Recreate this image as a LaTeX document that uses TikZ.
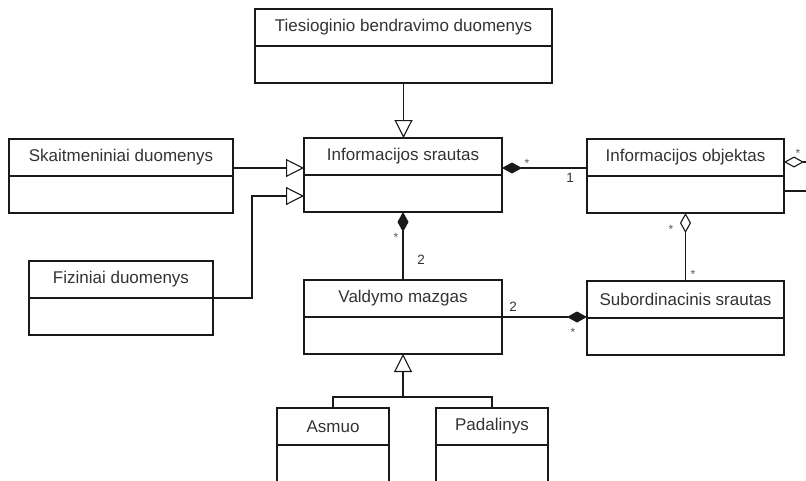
\documentclass[tikz,border=0pt]{standalone}
\usepackage{fontspec}
\setmainfont{Liberation Sans}
\usetikzlibrary{arrows.meta,calc}

\tikzset{
  cls/.style={draw=black!90, line width=1.1pt, fill=white, minimum width=#1,
    minimum height=74, inner sep=0pt, outer sep=0pt, anchor=north west},
  lbl/.style={font=\fontsize{17}{20}\selectfont, text=black!80, inner sep=0pt},
  mult/.style={font=\fontsize{13.5}{16}\selectfont, text=black!80, inner sep=0pt},
  star/.style={font=\fontsize{12}{14}\selectfont, text=black!65, inner sep=0pt},
  conn/.style={draw=black!90, line width=1.1pt},
  gen/.style={conn, -{Triangle[open, length=18pt, width=18pt, fill=white]}},
  comp/.style={conn, {Diamond[length=20pt, width=11pt]}-},
  agg/.style={conn, {Diamond[open, length=20pt, width=11pt, fill=white]}-},
}

% class box: name, left x, top y, width, title
\newcommand\umlclass[5]{%
  \node[cls=#4] (#1) at (#2,#3) {};
  \draw[conn] (#1.west) -- (#1.east);
  \node[lbl] (#1-title) at ([yshift=-18.5pt]#1.north) {#5};
}

\begin{document}
\begin{tikzpicture}[x=1pt, y=-1pt]
  \useasboundingbox (0,0) rectangle (806,480);
  \fill[white] (0,0) rectangle (806,480);
  \clip (0,0) rectangle (806,480);

  % classes
  \umlclass{tb}{255}{9}{297}{Tiesioginio bendravimo duomenys}
  \umlclass{sr}{304}{138}{198}{Informacijos srautas}
  \umlclass{sk}{9}{139}{224}{Skaitmeniniai duomenys}
  \umlclass{ob}{587}{139}{197}{Informacijos objektas}
  \umlclass{fz}{29}{261}{184}{Fiziniai duomenys}
  \umlclass{vm}{304}{280}{198}{Valdymo mazgas}
  \umlclass{sb}{587}{281}{197}{Subordinacinis srautas}
  \umlclass{as}{277}{408}{112}{Asmuo}
  \umlclass{pd}{436}{408}{112}{Padalinys}

  % generalisations
  \draw[gen] (tb.south) -- (tb.south |- sr.north);
  \draw[gen] ([yshift=8pt]sk.east) -- ([yshift=8pt]sk.east -| sr.west);
  \draw[gen] (fz.east) -- ++(39,0) |- ([yshift=-21pt]sr.west);
  \coordinate (join) at (403,397);
  \draw[conn] (as.north) |- (join) -| (pd.north);
  \draw[gen] (join) -- (vm.south);

  % compositions
  \draw[comp] ([yshift=7pt]sr.east) -- ([yshift=7pt]sr.east -| ob.west);
  \node[star] (m1) at (527,163) {*};
  \node[mult] (m2) at (570,178) {1};

  \draw[comp] (sr.south) -- (vm.north);
  \node[star] (m3) at (396,237) {*};
  \node[mult] (m4) at (421,260) {2};

  \draw[comp] (sb.west |- vm.east) -- (vm.east);
  \node[mult] (m5) at (513,307) {2};
  \node[star] (m6) at (573,332) {*};

  % aggregations
  \draw[agg] (ob.south) -- (ob.south |- sb.north);
  \node[star] (m7) at (671,229) {*};
  \node[star] (m8) at (693,274) {*};

  \coordinate (loopR) at (830,176);
  \draw[agg] ([yshift=14pt]ob.east) -| (loopR) |- ([yshift=-15pt]ob.east);
  \node[star] (m9) at (798,153) {*};
\end{tikzpicture}
\end{document}
